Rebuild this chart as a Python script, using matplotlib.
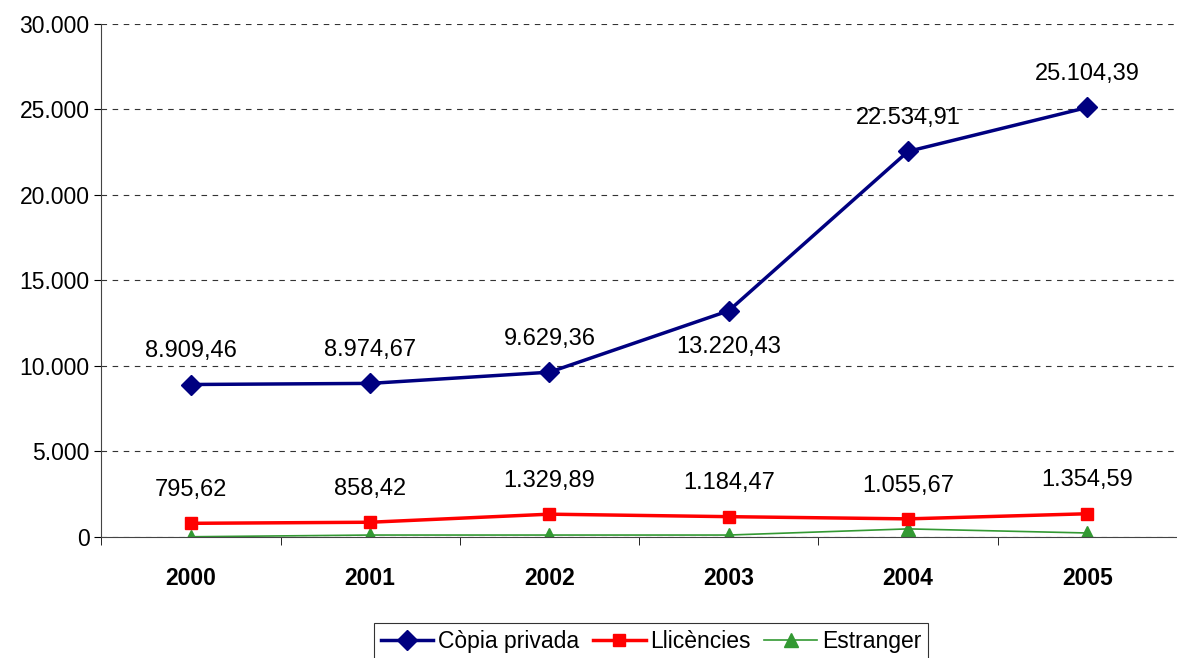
import numpy as np
import matplotlib.pyplot as plt
from matplotlib.ticker import FuncFormatter, FixedLocator

plt.rcParams['font.family'] = ['Liberation Sans', 'DejaVu Sans']

years = ['2000', '2001', '2002', '2003', '2004', '2005']
copia = [8909.46, 8974.67, 9629.36, 13220.43, 22534.91, 25104.39]
llicencies = [795.62, 858.42, 1329.89, 1184.47, 1055.67, 1354.59]
estranger = [10, 110, 110, 110, 470, 230]


def fmt_num(v, dec=2):
    s = f"{v:,.{dec}f}"
    return s.replace(',', 'X').replace('.', ',').replace('X', '.')


fig = plt.figure(figsize=(11.77, 6.58), dpi=100)
ax = fig.add_axes([0.086, 0.184, 0.914, 0.78])

x = np.arange(len(years))
ax.plot(x, copia, color='#000080', lw=2.5, marker='D', ms=10, label='Còpia privada', zorder=4)
ax.plot(x, llicencies, color='#FF0000', lw=2.5, marker='s', ms=8, label='Llicències', zorder=3)
ax.plot(x, estranger, color='#339933', lw=1.2, marker='^', ms=10, label='Estranger', zorder=2)

# labels
for i, v in enumerate(copia):
    dy = -26 if i == 3 else 24
    ax.annotate(fmt_num(v), (x[i], v), textcoords='offset points', xytext=(0, dy),
                ha='center', va='center', fontsize=17)
for i, v in enumerate(llicencies):
    ax.annotate(fmt_num(v), (x[i], v), textcoords='offset points', xytext=(0, 24),
                ha='center', va='center', fontsize=17)

ax.set_xlim(-0.5, 5.5)
ax.set_ylim(0, 30000)
ax.set_yticks(np.arange(0, 30001, 5000))
ax.yaxis.set_major_formatter(FuncFormatter(lambda v, p: fmt_num(v, 0)))
ax.tick_params(axis='y', labelsize=16.5, direction='out', length=5)

ax.set_xticks(x)
ax.set_xticklabels(years, fontsize=16.5, fontweight='bold')
ax.tick_params(axis='x', length=0, pad=22)
ax.xaxis.set_minor_locator(FixedLocator(np.arange(-0.5, 5.6, 1)))
ax.tick_params(axis='x', which='minor', length=6, direction='out')

ax.grid(axis='y', linestyle=(0, (5, 5)), color='#333333', lw=0.8)
ax.set_axisbelow(True)
for s in ['top', 'right']:
    ax.spines[s].set_visible(False)
ax.spines['left'].set_color('#444444')
ax.spines['bottom'].set_color('#444444')

leg = fig.legend(loc='lower center', bbox_to_anchor=(0.553, -0.02), ncol=3, fontsize=16.5,
                 frameon=True, fancybox=False, edgecolor='black', handlelength=2.3,
                 handletextpad=0.2, columnspacing=0.6, borderpad=0.3)
leg.get_frame().set_linewidth(0.8)

fig.savefig('out.png', dpi=100)
